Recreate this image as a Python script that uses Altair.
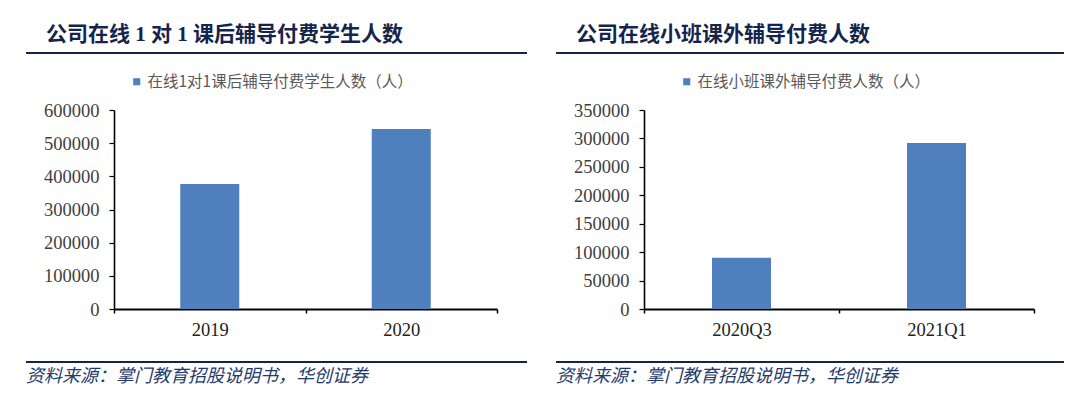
import altair as alt
import pandas as pd

# ---------------- data ----------------
left_cats = ["2019", "2020"]
left_vals = [377000, 543000]
right_cats = ["2020Q3", "2021Q1"]
right_vals = [90000, 292000]

left_ticks = [0, 100000, 200000, 300000, 400000, 500000, 600000]
right_ticks = [0, 50000, 100000, 150000, 200000, 250000, 300000, 350000]

left_title = "公司在线 1 对 1 课后辅导付费学生人数"
right_title = "公司在线小班课外辅导付费人数"
left_series = "在线1对1课后辅导付费学生人数（人）"
right_series = "在线小班课外辅导付费人数（人）"
source_text = "资料来源：掌门教育招股说明书，华创证券"

# ---------------- style ----------------
BLUE = "#4f7fbd"
NAVY = "#14244a"
SRC_COLOR = "#1f3a6b"
SERIF = "Liberation Serif, Noto Sans CJK SC"
CJK = "Noto Sans CJK SC"
H = 199


def panel(cats, vals, ticks, series, title, width, legend_x):
    df = pd.DataFrame({"cat": cats, "val": vals, "series": [series] * len(cats)})
    one = pd.DataFrame({"t": [title], "s": [source_text]})

    bars = alt.Chart(df).mark_bar(size=59).encode(
        x=alt.X(
            "cat:N",
            sort=cats,
            scale=alt.Scale(paddingInner=0, paddingOuter=0),
            axis=alt.Axis(
                title=None, labelAngle=0, tickBand="extent", labelFont=SERIF,
                labelFontSize=18.5, labelColor="#222222", labelPadding=7,
                domainColor="black", domainWidth=2, tickColor="black",
                tickSize=4, tickWidth=1.5,
            ),
        ),
        y=alt.Y(
            "val:Q",
            scale=alt.Scale(domain=[0, ticks[-1]], nice=False, zero=True),
            axis=alt.Axis(
                title=None, values=ticks, format="d", grid=False,
                labelFont=SERIF, labelFontSize=18.5, labelColor="#404040",
                labelPadding=10, domainColor="black", domainWidth=1.6,
                tickColor="black", tickSize=5, tickWidth=1.2,
            ),
        ),
        color=alt.Color(
            "series:N",
            scale=alt.Scale(range=[BLUE]),
            legend=alt.Legend(
                orient="none", legendX=legend_x, legendY=-36, title=None,
                symbolType="square", symbolSize=50, symbolStrokeWidth=0,
                labelFont=CJK, labelFontSize=15.5, labelColor="#595959",
                labelOffset=3, labelLimit=0,
            ),
        ),
    )

    title_mark = alt.Chart(one).mark_text(
        align="left", baseline="middle", font=SERIF, fontSize=21,
        fontWeight="bold", color=NAVY,
    ).encode(text="t:N", x=alt.value(-68), y=alt.value(-75))

    top_rule = alt.Chart(one).mark_rule(color=NAVY, strokeWidth=2).encode(
        x=alt.value(-88), x2=alt.value(width + 30), y=alt.value(-57)
    )
    bottom_rule = alt.Chart(one).mark_rule(color=NAVY, strokeWidth=2).encode(
        x=alt.value(-88), x2=alt.value(width + 30), y=alt.value(H + 53)
    )
    src = alt.Chart(one).mark_text(
        align="left", baseline="middle", font=CJK, fontSize=18,
        fontStyle="italic", color=SRC_COLOR,
    ).encode(text="s:N", x=alt.value(-88), y=alt.value(H + 68))

    return alt.layer(bars, title_mark, top_rule, bottom_rule, src).properties(
        width=width, height=H
    )


left = panel(left_cats, left_vals, left_ticks, left_series, left_title, 383, 15)
right = panel(right_cats, right_vals, right_ticks, right_series, right_title, 390, 35)

chart = alt.hconcat(left, right, spacing=25).resolve_scale(
    color="independent"
).properties(
    padding={"left": 16, "top": 15, "right": 5, "bottom": 5}
).configure(
    background="white", view=alt.ViewConfig(stroke="transparent")
)

chart.save("out.html", embed_options={"renderer": "svg", "actions": False})
